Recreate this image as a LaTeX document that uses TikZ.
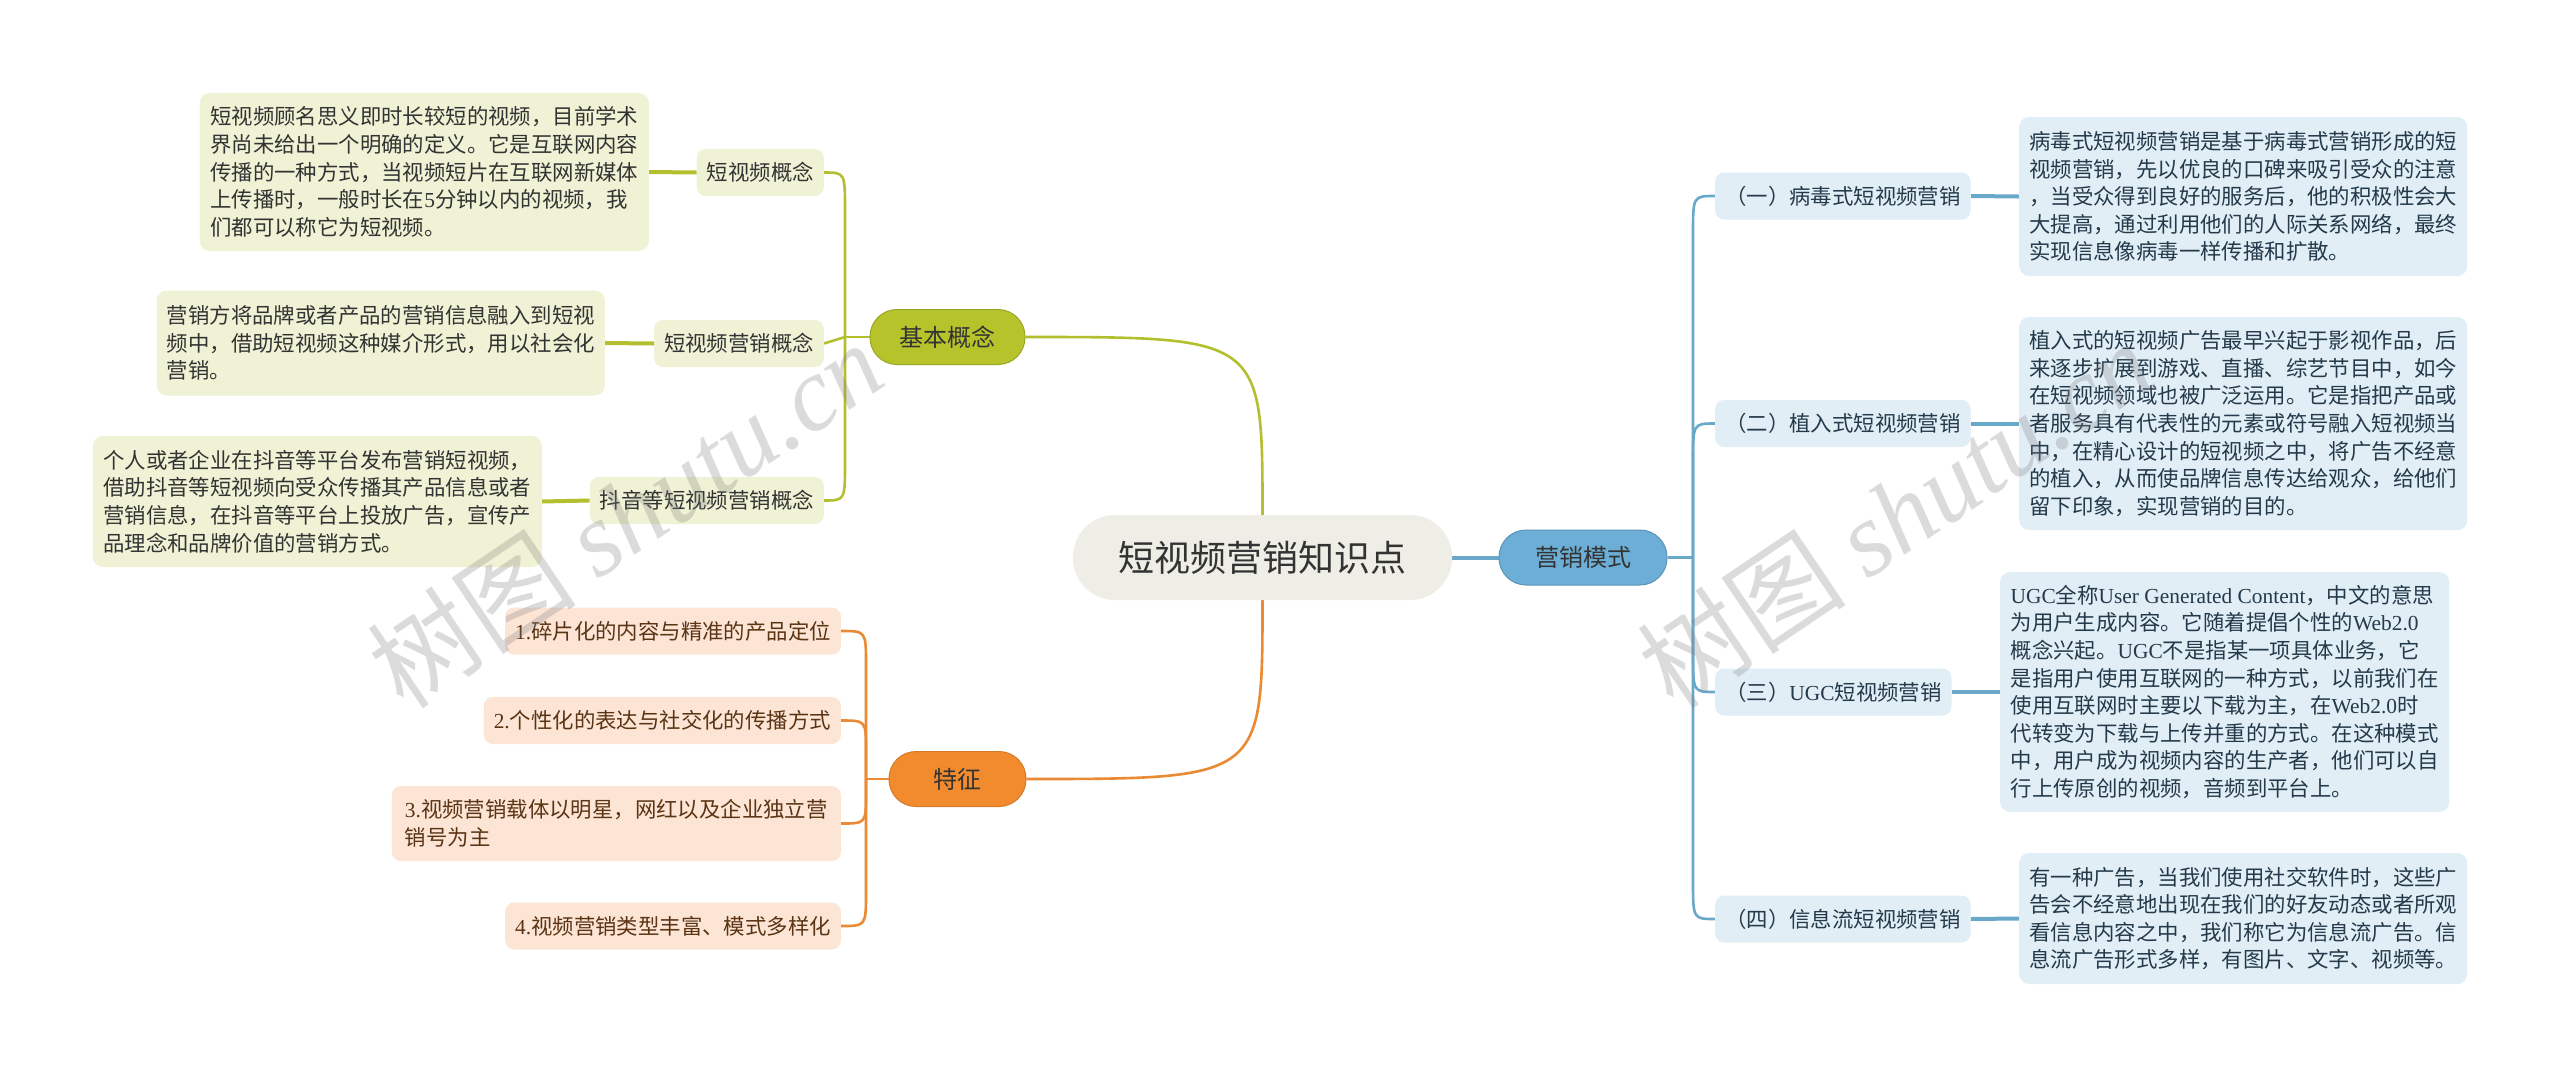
\documentclass[tikz,border=0pt]{standalone}
\usepackage{fontspec}
\setmainfont{Noto Sans CJK SC}
\newfontfamily\lat{Liberation Serif}
\usetikzlibrary{calc,backgrounds}
\definecolor{olvfill}{HTML}{B6C32B}
\definecolor{olvline}{HTML}{B3BF2E}
\definecolor{olvlight}{HTML}{EFF2D4}
\definecolor{orgfill}{HTML}{F28B2E}
\definecolor{orgline}{HTML}{EA8A34}
\definecolor{orglight}{HTML}{FCE5D5}
\definecolor{orgtext}{HTML}{5A3414}
\definecolor{blufill}{HTML}{6CAED5}
\definecolor{bluline}{HTML}{6AA8CA}
\definecolor{blulight}{HTML}{E1EEF6}
\definecolor{blutext}{HTML}{243A4A}
\definecolor{cenfill}{HTML}{EFEEE6}
\definecolor{txt}{HTML}{333333}
\tikzset{
  cennode/.style={rectangle, rounded corners=42pt, fill=cenfill, minimum width=379pt, minimum height=85pt, inner sep=0pt, font=\fontsize{36}{40}\selectfont, text=txt},
  prim/.style={rectangle, rounded corners=27pt, minimum height=55pt, inner sep=0pt, font=\fontsize{24}{28}\selectfont, text=txt, line width=1pt},
  subnode/.style={rectangle, rounded corners=9pt, minimum height=47pt, inner xsep=10pt, inner ysep=0pt, align=left, font=\fontsize{21.4}{27.6}\selectfont},
  descbox/.style={rectangle, rounded corners=10pt, inner xsep=10pt, inner ysep=0pt, align=left, font=\fontsize{21.4}{27.6}\selectfont},
  olvsub/.style={subnode, fill=olvlight, text=txt},
  olvdesc/.style={descbox, fill=olvlight, text=txt},
  orgsub/.style={subnode, fill=orglight, text=orgtext},
  blusub/.style={subnode, fill=blulight, text=blutext},
  bludesc/.style={descbox, fill=blulight, text=blutext},
  olvconn/.style={draw=olvline, line width=2.6pt},
  orgconn/.style={draw=orgline, line width=2.6pt},
  bluconn/.style={draw=bluline, line width=2.6pt},
  olvthick/.style={draw=olvline, line width=4pt},
  bluthick/.style={draw=bluline, line width=4pt},
  wmark/.style={rotate=34, text=gray, opacity=0.28, font=\fontsize{105}{110}\selectfont}
}
\begin{document}
\begin{tikzpicture}[x=1pt,y=-1pt]
\useasboundingbox (0,0) rectangle (2560,1077);
\begin{scope}[on background layer]
\fill[white] (0,0) rectangle (2560,1077);
\end{scope}

% central and main branches
\node[cennode] (cen) at (1262.5,557.5) {短视频营销知识点};
\node[prim, fill=olvfill, draw=olvfill!85!black, minimum width=155pt] (jb) at (947.5,337) {基本概念};
\node[prim, fill=orgfill, draw=orgfill!88!black, minimum width=137pt] (tz) at (957.5,779) {特征};
\node[prim, fill=blufill, draw=blufill!85!black, minimum width=168pt] (ms) at (1583,557.5) {营销模式};

% olive children
\node[olvsub, anchor=east] (c1) at (824,172.5) {短视频概念};
\node[olvsub, anchor=east] (c2) at (824,343.5) {短视频营销概念};
\node[olvsub, anchor=east] (c3) at (824,500.5) {抖音等短视频营销概念};
\node[olvdesc, anchor=east, minimum width=449pt, minimum height=158pt] (d1) at (649,172) {短视频顾名思义即时长较短的视频，目前学术\\界尚未给出一个明确的定义。它是互联网内容\\传播的一种方式，当视频短片在互联网新媒体\\上传播时，一般时长在{\lat 5}分钟以内的视频，我\\们都可以称它为短视频。};
\node[olvdesc, anchor=east, minimum width=448pt, minimum height=105pt] (d2) at (605,343) {营销方将品牌或者产品的营销信息融入到短视\\频中，借助短视频这种媒介形式，用以社会化\\营销。};
\node[olvdesc, anchor=east, minimum width=449pt, minimum height=131pt] (d3) at (542,501.5) {个人或者企业在抖音等平台发布营销短视频，\\借助抖音等短视频向受众传播其产品信息或者\\营销信息，在抖音等平台上投放广告，宣传产\\品理念和品牌价值的营销方式。};

% orange children
\node[orgsub, anchor=east] (o1) at (841,631) {{\lat 1.}碎片化的内容与精准的产品定位};
\node[orgsub, anchor=east] (o2) at (841,720.5) {{\lat 2.}个性化的表达与社交化的传播方式};
\node[orgsub, anchor=east, minimum height=75pt, minimum width=449pt] (o3) at (841,823.5) {{\lat 3.}视频营销载体以明星，网红以及企业独立营\\销号为主};
\node[orgsub, anchor=east] (o4) at (841,926) {{\lat 4.}视频营销类型丰富、模式多样化};

% blue children
\node[blusub, anchor=west] (b1) at (1715,196) {（一）病毒式短视频营销};
\node[blusub, anchor=west] (b2) at (1715,423.5) {（二）植入式短视频营销};
\node[blusub, anchor=west] (b3) at (1715,692) {（三）{\lat UGC}短视频营销};
\node[blusub, anchor=west] (b4) at (1715,919) {（四）信息流短视频营销};
\node[bludesc, anchor=west, minimum width=448pt, minimum height=159pt] (e1) at (2019,196.5) {病毒式短视频营销是基于病毒式营销形成的短\\视频营销，先以优良的口碑来吸引受众的注意\\，当受众得到良好的服务后，他的积极性会大\\大提高，通过利用他们的人际关系网络，最终\\实现信息像病毒一样传播和扩散。};
\node[bludesc, anchor=west, minimum width=448pt, minimum height=213pt] (e2) at (2019,423.5) {植入式的短视频广告最早兴起于影视作品，后\\来逐步扩展到游戏、直播、综艺节目中，如今\\在短视频领域也被广泛运用。它是指把产品或\\者服务具有代表性的元素或符号融入短视频当\\中，在精心设计的短视频之中，将广告不经意\\的植入，从而使品牌信息传达给观众，给他们\\留下印象，实现营销的目的。};
\node[bludesc, anchor=west, minimum width=449pt, minimum height=240pt] (e3) at (2000,692) {{\lat UGC}全称{\lat User Generated Content}，中文的意思\\为用户生成内容。它随着提倡个性的{\lat Web2.0}\\概念兴起。{\lat UGC}不是指某一项具体业务，它\\是指用户使用互联网的一种方式，以前我们在\\使用互联网时主要以下载为主，在{\lat Web2.0}时\\代转变为下载与上传并重的方式。在这种模式\\中，用户成为视频内容的生产者，他们可以自\\行上传原创的视频，音频到平台上。};
\node[bludesc, anchor=west, minimum width=448pt, minimum height=131pt] (e4) at (2019,918.5) {有一种广告，当我们使用社交软件时，这些广\\告会不经意地出现在我们的好友动态或者所观\\看信息内容之中，我们称它为信息流广告。信\\息流广告形式多样，有图片、文字、视频等。};

\coordinate (tB) at (845,337);
\coordinate (tO) at (866,779);
\coordinate (tM) at (1693,557.5);

\begin{scope}[on background layer]
% central links
\draw[olvconn] (cen.north) .. controls (cen.north |- jb.east) .. (jb.east);
\draw[orgconn] (cen.south) .. controls (cen.south |- tz.east) .. (tz.east);
\draw[bluthick] (cen.east) -- (ms.west);
% olive tree
\draw[olvconn] (jb.west) -- (tB);
\draw[olvconn] (tB) -- ($(tB |- c1.east)+(0,38)$) .. controls (tB |- c1.east) .. (c1.east);
\draw[olvconn] (tB) .. controls ($(tB)!0.5!(c2.east)$) .. (c2.east);
\draw[olvconn] (tB) -- ($(tB |- c3.east)+(0,-38)$) .. controls (tB |- c3.east) .. (c3.east);
\draw[olvthick] (c1.west) -- (d1.east);
\draw[olvthick] (c2.west) -- (d2.east);
\draw[olvthick] (c3.west) -- (d3.east);
% orange tree
\draw[orgconn] (tz.west) -- (tO);
\draw[orgconn] (tO) -- ($(tO |- o1.east)+(0,34)$) .. controls (tO |- o1.east) .. (o1.east);
\draw[orgconn] (tO) -- ($(tO |- o2.east)+(0,30)$) .. controls (tO |- o2.east) .. (o2.east);
\draw[orgconn] (tO) -- ($(tO |- o3.east)+(0,-30)$) .. controls (tO |- o3.east) .. (o3.east);
\draw[orgconn] (tO) -- ($(tO |- o4.east)+(0,-34)$) .. controls (tO |- o4.east) .. (o4.east);
% blue tree
\draw[bluconn] (ms.east) -- (tM);
\draw[bluconn] (tM) -- ($(tM |- b1.west)+(0,38)$) .. controls (tM |- b1.west) .. (b1.west);
\draw[bluconn] (tM) -- ($(tM |- b2.west)+(0,38)$) .. controls (tM |- b2.west) .. (b2.west);
\draw[bluconn] (tM) -- ($(tM |- b3.west)+(0,-38)$) .. controls (tM |- b3.west) .. (b3.west);
\draw[bluconn] (tM) -- ($(tM |- b4.west)+(0,-38)$) .. controls (tM |- b4.west) .. (b4.west);
\draw[bluthick] (b1.east) -- (e1.west);
\draw[bluthick] (b2.east) -- (e2.west);
\draw[bluthick] (b3.east) -- (e3.west);
\draw[bluthick] (b4.east) -- (e4.west);
\end{scope}

% watermarks
\node[wmark] (wm1) at (625,514) {树图 {\lat\itshape shutu.cn}};
\node[wmark] (wm2) at (1895,514) {树图 {\lat\itshape shutu.cn}};
\end{tikzpicture}
\end{document}
